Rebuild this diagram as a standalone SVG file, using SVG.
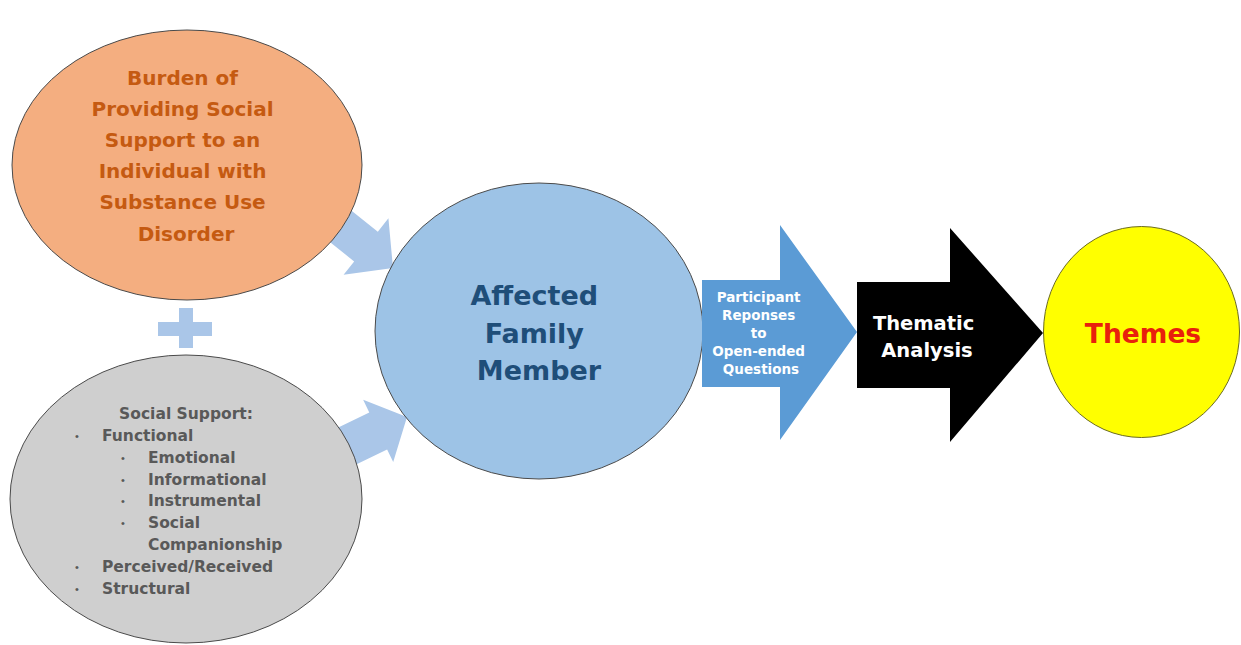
<svg xmlns="http://www.w3.org/2000/svg" width="1241" height="645" viewBox="0 0 1241 645">
  <defs>
    <style>
      .t { font-family: "DejaVu Sans", "Liberation Sans", sans-serif; font-weight: bold; }
      .mid { text-anchor: middle; }
      .burden { font-size: 20px; fill: #c55a11; }
      .support { font-size: 15.5px; fill: #595959; }
      .bullet { font-family: "Liberation Sans", sans-serif; font-size: 11px; fill: #595959; }
      .member { font-size: 27px; fill: #1f4e79; }
      .small { font-size: 13.5px; fill: #ffffff; }
      .analysis { font-size: 19.5px; fill: #ffffff; }
      .themes { font-size: 26.5px; fill: #e8200c; }
      .feed { fill: #aac6e8; }
      .node { stroke: #4a4a4a; stroke-width: 1; }
    </style>
  </defs>
  <rect width="1241" height="645" fill="#ffffff"/>

  <!-- connectors -->
  <g id="connectors">
    <!-- feeders into the family member circle -->
    <polygon class="feed" points="-90,-19 -34.5,-19 -34.5,-36 0,0 -34.5,36 -34.5,19 -90,19" transform="translate(393,268) rotate(38.5)"/>
    <polygon class="feed" points="-90,-20.5 -32,-20.5 -32,-34.5 0,0 -32,34.5 -32,20.5 -90,20.5" transform="translate(407,417) rotate(-25.8)"/>
    <!-- plus sign between the two inputs -->
    <g id="plus" class="feed">
      <rect x="158" y="322" width="54" height="14"/>
      <rect x="179" y="308" width="14" height="40"/>
    </g>
  </g>

  <g id="burden">
    <ellipse class="node" cx="187" cy="165" rx="175" ry="135" fill="#f4ae80"/>
    <text class="t mid burden">
      <tspan x="186" y="85">Burden of</tspan>
      <tspan x="186" y="116">Providing Social</tspan>
      <tspan x="186" y="147">Support to an</tspan>
      <tspan x="186" y="178">Individual with</tspan>
      <tspan x="186" y="209">Substance Use</tspan>
      <tspan x="186" y="241">Disorder</tspan>
    </text>
  </g>

  <g id="social-support">
    <ellipse class="node" cx="186" cy="499" rx="176" ry="144" fill="#cfcfcf"/>
    <text class="t mid support" x="186" y="419" font-size="17.5">Social Support:</text>
    <g class="bullet">
      <text x="75" y="440">•</text>
      <text x="121" y="462">•</text>
      <text x="121" y="484">•</text>
      <text x="121" y="505">•</text>
      <text x="121" y="527">•</text>
      <text x="75" y="571">•</text>
      <text x="75" y="593">•</text>
    </g>
    <g class="t support">
      <text x="102" y="441">Functional</text>
      <text x="148" y="463">Emotional</text>
      <text x="148" y="485">Informational</text>
      <text x="148" y="506">Instrumental</text>
      <text x="148" y="528">Social</text>
      <text x="148" y="550">Companionship</text>
      <text x="102" y="572">Perceived/Received</text>
      <text x="102" y="594">Structural</text>
    </g>
  </g>

  <g id="family-member">
    <ellipse class="node" cx="539" cy="331" rx="164" ry="148" fill="#9dc3e6"/>
    <text class="t mid member">
      <tspan x="539" y="305">Affected</tspan>
      <tspan x="539" y="343">Family</tspan>
      <tspan x="539" y="380">Member</tspan>
    </text>
  </g>

  <g id="responses">
    <polygon points="702,280 780,280 780,225 857,332 780,440 780,387 702,387" fill="#5b9bd5"/>
    <text class="t mid small">
      <tspan x="761" y="302">Participant</tspan>
      <tspan x="761" y="320">Reponses</tspan>
      <tspan x="761" y="338">to</tspan>
      <tspan x="761" y="356">Open-ended</tspan>
      <tspan x="761" y="374">Questions</tspan>
    </text>
  </g>

  <g id="thematic-analysis">
    <polygon points="857,282 950,282 950,228 1043,333 950,442 950,388 857,388" fill="#000000"/>
    <text class="t mid analysis">
      <tspan x="927" y="330">Thematic</tspan>
      <tspan x="927" y="357">Analysis</tspan>
    </text>
  </g>

  <g id="themes">
    <ellipse cx="1141.5" cy="332" rx="98" ry="105.5" fill="#ffff00" stroke="#6b6b20" stroke-width="1"/>
    <text class="t mid themes" x="1143" y="343">Themes</text>
  </g>
</svg>
